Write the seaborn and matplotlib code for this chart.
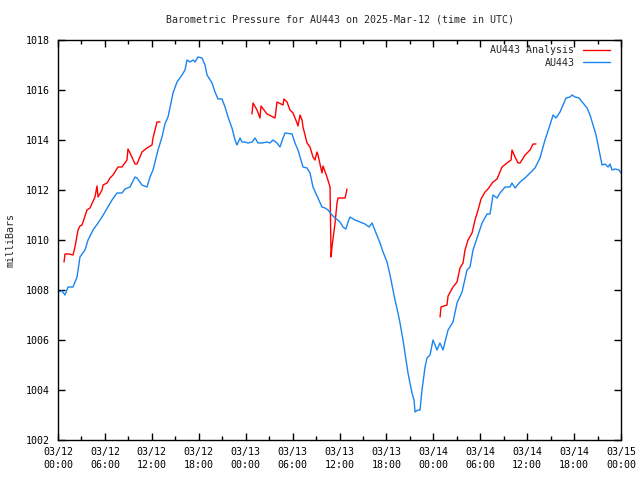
import matplotlib
matplotlib.use("Agg")
import matplotlib.pyplot as plt
import pandas as pd
import seaborn as sns
from matplotlib.ticker import MultipleLocator

TITLE = "Barometric Pressure for AU443 on 2025-Mar-12 (time in UTC)"
STATION = "AU443"
ANALYSIS = "AU443 Analysis"
RED = "#ff0000"
BLUE = "#1a84f0"

# hours since 2025-03-12 00:00 UTC, pressure in mb
obs_hours = [0.0, 0.51, 0.9, 1.28, 1.92, 2.43, 2.81, 3.45, 3.84, 4.48, 5.12, 5.63,
             6.01, 6.91, 7.55, 8.19, 8.57, 9.21, 9.85, 10.1, 10.74, 11.38, 11.77,
             12.15, 12.79, 13.3, 13.68, 14.07, 14.71, 15.22, 15.86, 16.24, 16.5,
             16.88, 17.27, 17.52, 17.9, 18.42, 18.8, 19.06, 19.7, 20.08, 20.46,
             20.97, 21.36, 21.74, 22.25, 22.64, 22.89, 23.28, 23.53, 23.92, 24.3,
             24.81, 25.2, 25.58, 26.09, 26.73, 27.11, 27.5, 28.01, 28.39, 28.78,
             29.03, 29.93, 30.31, 30.69, 30.95, 31.33, 31.85, 32.23, 32.61, 33.25,
             33.76, 34.15, 34.53, 35.04, 35.43, 36.07, 36.45, 36.83, 37.09, 37.34,
             37.98, 38.62, 39.26, 39.78, 40.16, 40.67, 41.18, 41.57, 42.08, 42.46,
             43.1, 43.48, 43.74, 44.12, 44.51, 44.76, 45.27, 45.53, 45.66, 46.04,
             46.3, 46.55, 46.94, 47.19, 47.58, 47.96, 48.47, 48.84, 49.24, 49.62,
             49.88, 50.52, 51.03, 51.67, 52.31, 52.69, 53.08, 53.72, 54.23, 54.87,
             55.25, 55.63, 56.15, 56.53, 57.17, 57.81, 58.06, 58.45, 59.09, 59.73,
             60.24, 61.0, 61.64, 62.28, 62.92, 63.31, 63.69, 64.2, 64.59, 64.97,
             65.48, 65.74, 66.12, 66.63, 67.14, 67.66, 68.04, 68.42, 68.81, 69.06,
             69.32, 69.58, 69.96, 70.34, 70.6, 70.85, 71.24, 71.75, 72.0]
obs_mb = [1007.92, 1007.96, 1007.8, 1008.12, 1008.12, 1008.52, 1009.32, 1009.6,
          1010.0, 1010.4, 1010.68, 1010.92, 1011.12, 1011.6, 1011.88, 1011.88,
          1012.04, 1012.12, 1012.52, 1012.48, 1012.2, 1012.12, 1012.52, 1012.8,
          1013.6, 1014.12, 1014.64, 1014.92, 1015.88, 1016.32, 1016.6, 1016.8,
          1017.2, 1017.12, 1017.2, 1017.12, 1017.32, 1017.28, 1017.0, 1016.6,
          1016.28, 1015.92, 1015.64, 1015.64, 1015.32, 1014.92, 1014.48, 1014.0,
          1013.8, 1014.08, 1013.92, 1013.92, 1013.88, 1013.92, 1014.08, 1013.88,
          1013.88, 1013.92, 1013.88, 1014.0, 1013.88, 1013.72, 1014.08, 1014.28,
          1014.24, 1013.88, 1013.6, 1013.32, 1012.92, 1012.88, 1012.68, 1012.12,
          1011.68, 1011.32, 1011.28, 1011.2, 1011.0, 1010.88, 1010.72, 1010.52,
          1010.44, 1010.72, 1010.92, 1010.8, 1010.72, 1010.64, 1010.52, 1010.68,
          1010.28, 1009.88, 1009.52, 1009.12, 1008.6, 1007.6, 1007.08, 1006.68,
          1006.0, 1005.2, 1004.68, 1003.88, 1003.6, 1003.12, 1003.2, 1003.2,
          1004.0, 1004.92, 1005.28, 1005.4, 1006.0, 1005.6, 1005.88, 1005.6,
          1006.08, 1006.4, 1006.72, 1007.48, 1007.92, 1008.8, 1008.92, 1009.6,
          1010.2, 1010.68, 1011.04, 1011.04, 1011.8, 1011.68, 1011.88, 1012.12,
          1012.12, 1012.28, 1012.08, 1012.32, 1012.48, 1012.64, 1012.88, 1013.28,
          1014.0, 1014.6, 1015.0, 1014.88, 1015.12, 1015.4, 1015.68, 1015.72,
          1015.8, 1015.72, 1015.68, 1015.48, 1015.28, 1015.0, 1014.6, 1014.2,
          1013.8, 1013.4, 1013.0, 1013.04, 1012.92, 1013.04, 1012.8, 1012.84,
          1012.8, 1012.68]

# three analysis runs
ana1_hours = [0.77, 0.9, 1.41, 1.92, 2.17, 2.56, 2.81, 3.07, 3.71, 4.09, 4.73, 4.99,
              5.12, 5.63, 5.76, 6.27, 6.65, 7.03, 7.67, 8.19, 8.82, 8.95, 9.21,
              9.85, 10.1, 10.74, 11.38, 12.02, 12.15, 12.66, 13.04]
ana1_mb = [1009.12, 1009.44, 1009.44, 1009.4, 1009.72, 1010.4, 1010.56, 1010.6,
           1011.2, 1011.28, 1011.72, 1012.16, 1011.72, 1012.0, 1012.2, 1012.28,
           1012.48, 1012.6, 1012.92, 1012.92, 1013.2, 1013.64, 1013.48, 1013.04,
           1013.04, 1013.52, 1013.68, 1013.8, 1014.08, 1014.72, 1014.72]
ana2_hours = [24.81, 24.94, 25.45, 25.83, 25.96, 26.73, 27.5, 27.75, 28.01, 28.78,
              28.9, 29.29, 29.67, 30.05, 30.57, 30.69, 30.95, 31.21, 31.33, 31.85,
              32.23, 32.61, 32.87, 33.12, 33.25, 33.76, 33.89, 34.4, 34.79, 34.92,
              35.04, 35.43, 35.68, 35.81, 36.71, 36.96]
ana2_mb = [1015.04, 1015.48, 1015.2, 1014.88, 1015.36, 1015.04, 1014.92, 1014.88,
           1015.52, 1015.4, 1015.64, 1015.52, 1015.2, 1015.08, 1014.68, 1014.56,
           1015.0, 1014.8, 1014.52, 1013.88, 1013.72, 1013.32, 1013.2, 1013.52,
           1013.4, 1012.68, 1012.96, 1012.52, 1012.12, 1009.32, 1009.72, 1010.68,
           1011.48, 1011.68, 1011.68, 1012.04]
ana3_hours = [48.86, 48.98, 49.75, 49.88, 50.52, 51.03, 51.41, 51.8, 52.05, 52.44,
              52.95, 53.33, 53.72, 54.1, 54.61, 54.99, 55.63, 56.15, 56.78, 57.42,
              57.94, 58.06, 58.45, 58.83, 59.09, 59.73, 60.37, 60.75, 61.13]
ana3_mb = [1006.92, 1007.32, 1007.4, 1007.76, 1008.12, 1008.32, 1008.88, 1009.08,
           1009.6, 1010.0, 1010.28, 1010.8, 1011.2, 1011.64, 1011.92, 1012.04,
           1012.32, 1012.44, 1012.92, 1013.08, 1013.2, 1013.6, 1013.32, 1013.08,
           1013.08, 1013.4, 1013.6, 1013.84, 1013.84]

tick_hours = list(range(0, 73, 6))
tick_labels = ["03/12\n00:00", "03/12\n06:00", "03/12\n12:00", "03/12\n18:00",
               "03/13\n00:00", "03/13\n06:00", "03/13\n12:00", "03/13\n18:00",
               "03/14\n00:00", "03/14\n06:00", "03/14\n12:00", "03/14\n18:00",
               "03/15\n00:00"]


def _frame(series, seg, hours, mb):
    return pd.DataFrame({"series": series, "seg": seg, "hour": hours, "mb": mb})


df = pd.concat([
    _frame(ANALYSIS, "a1", ana1_hours, ana1_mb),
    _frame(ANALYSIS, "a2", ana2_hours, ana2_mb),
    _frame(ANALYSIS, "a3", ana3_hours, ana3_mb),
    _frame(STATION, "obs", obs_hours, obs_mb),
], ignore_index=True)

sns.set_style("ticks")
plt.rcParams["font.family"] = ["DejaVu Sans Mono"]
plt.rcParams["font.size"] = 7.2

fig = plt.figure(figsize=(6.4, 4.8), dpi=100)
ax = fig.add_axes([58 / 640, 40 / 480, 563 / 640, 400 / 480])

sns.lineplot(data=df, x="hour", y="mb", hue="series", units="seg",
             estimator=None, sort=False, hue_order=[ANALYSIS, STATION],
             palette={ANALYSIS: RED, STATION: BLUE}, linewidth=1.0, ax=ax)

ax.set_xlim(0, 72)
ax.set_ylim(1002, 1018)
ax.set_xticks(tick_hours)
ax.set_xticklabels(tick_labels, linespacing=1.35)
ax.xaxis.set_minor_locator(MultipleLocator(3))
ax.set_yticks(range(1002, 1019, 2))
ax.tick_params(which="both", direction="in", top=True, right=True,
               colors="black", labelsize=7.2, width=1)
ax.tick_params(axis="x", which="major", length=5, pad=5)
ax.tick_params(axis="x", which="minor", length=3)
ax.tick_params(axis="y", which="major", length=5, pad=6)
for sp in ax.spines.values():
    sp.set_linewidth(1)
    sp.set_color("black")

ax.set_xlabel("")
ax.set_ylabel("milliBars", fontsize=7.2)
ax.yaxis.set_label_coords(-0.076, 0.5)

handles, labels = ax.get_legend_handles_labels()
ax.legend(handles, labels, loc="upper right", bbox_to_anchor=(1 - 6 / 563, 1.0),
          frameon=False, markerfirst=False, fontsize=7.2, handlelength=2.7,
          handletextpad=0.8, labelspacing=0.25, borderaxespad=0.25, borderpad=0.3)

fig.text(339.5 / 640, 1 - 19 / 480, TITLE, ha="center", va="center", fontsize=7.2)

fig.savefig("out.png", dpi=100)
